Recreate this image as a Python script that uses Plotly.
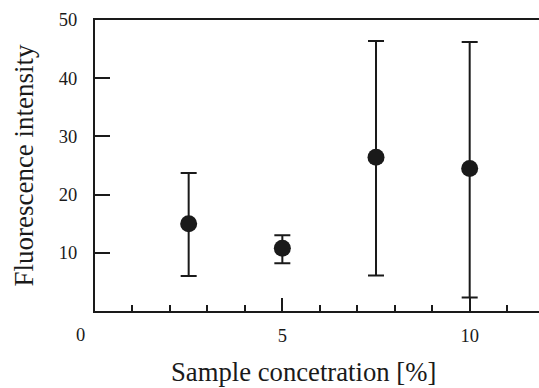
import plotly.graph_objects as go

conc = [2.5, 5.0, 7.5, 10.0]
intensity = [15.0, 10.8, 26.4, 24.5]
err_upper = [23.7, 13.0, 46.4, 46.2]
err_lower = [6.0, 8.2, 6.1, 2.3]

plus = [u - m for u, m in zip(err_upper, intensity)]
minus = [m - l for m, l in zip(intensity, err_lower)]

ink = "#1a1a1a"
font = "Liberation Serif, Times New Roman, serif"

W, H = 539, 388
L, T, R, B = 95, 20, 0, 77

fig = go.Figure()
fig.add_trace(go.Scatter(
    x=conc, y=intensity, mode="markers",
    marker=dict(size=17, color=ink),
    error_y=dict(type="data", symmetric=False, array=plus, arrayminus=minus,
                 color=ink, thickness=2, width=8),
    showlegend=False,
))

fig.update_layout(
    width=W, height=H,
    margin=dict(l=L, r=R, t=T, b=B, autoexpand=False),
    paper_bgcolor="white", plot_bgcolor="white",
    font=dict(family=font, size=18.5, color=ink),
    xaxis=dict(
        range=[0, 11.85], tickmode="linear", tick0=0, dtick=5,
        ticks="inside", ticklen=13, tickwidth=2, tickcolor=ink,
        minor=dict(dtick=1, tick0=0, ticks="inside", ticklen=6, tickwidth=1.5, tickcolor=ink),
        showline=True, linewidth=2, linecolor=ink, mirror=True,
        showgrid=False, zeroline=False,
        labelalias={"0": " "},
        ticklabelstandoff=7,
    ),
    yaxis=dict(
        range=[0, 50], tickmode="linear", tick0=0, dtick=10,
        ticks="inside", ticklen=15, tickwidth=2, tickcolor=ink,
        showline=True, linewidth=2, linecolor=ink,
        showgrid=False, zeroline=False,
        labelalias={"0": " "},
        ticklabelstandoff=12,
        title=dict(text="Fluorescence intensity", font=dict(size=27), standoff=17),
    ),
)
plot_w = W - L - R
plot_h = H - T - B
fig.add_annotation(text="0", xref="paper", yref="paper",
                   x=-15 / plot_w, y=-24 / plot_h, xanchor="center", yanchor="middle",
                   showarrow=False, font=dict(size=18.5, color=ink))
fig.add_annotation(text="Sample concetration [%]", xref="paper", yref="paper",
                   x=(303 - L) / plot_w, y=-(372 - (T + plot_h)) / plot_h,
                   xanchor="center", yanchor="middle",
                   showarrow=False, font=dict(size=26.7, color=ink))
fig.write_html(
    "out.html",
    config={"displayModeBar": False},
    post_script="document.body.style.margin='0';document.body.style.overflow='hidden';",
)
